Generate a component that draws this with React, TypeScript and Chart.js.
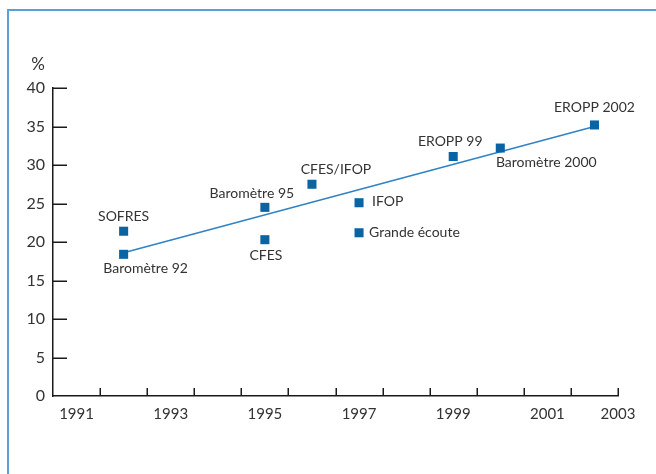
import React, { useEffect, useRef } from "react";
import { Chart, registerables } from "chart.js";

Chart.register(...registerables);

// ---- Data ----
const surveyNames = [
  "SOFRES",
  "Baromètre 92",
  "Baromètre 95",
  "CFES",
  "CFES/IFOP",
  "IFOP",
  "Grande écoute",
  "EROPP 99",
  "Baromètre 2000",
  "EROPP 2002",
];
const surveyYears = [1992, 1992, 1995, 1995, 1996, 1997, 1997, 1999, 2000, 2002];
const surveyValues = [21.4, 18.4, 24.5, 20.3, 27.5, 25.1, 21.2, 31.1, 32.2, 35.2];
const trendYears = [1992, 2002];
const trendValues = [18.6, 35.0];
const xTickLabels = ["1991", "1993", "1995", "1997", "1999", "2001", "2003"];
const yTickValues = [0, 5, 10, 15, 20, 25, 30, 35, 40];
const yUnit = "%";

// ---- Label placement (style, not data) ----
const labelPlacement: Record<string, [number, number, CanvasTextAlign]> = {
  "SOFRES": [0, -15, "center"],
  "Baromètre 92": [22, 14, "center"],
  "Baromètre 95": [-13, -14, "center"],
  "CFES": [1, 16, "center"],
  "CFES/IFOP": [24, -15, "center"],
  "IFOP": [13, -1, "left"],
  "Grande écoute": [10, 0, "left"],
  "EROPP 99": [-3, -15, "center"],
  "Baromètre 2000": [46, 14, "center"],
  "EROPP 2002": [0, -17, "center"],
};

const FONT = "Lato, 'Noto Sans', sans-serif";
const TEXT = "#333333";
const AXIS = "#1a1a1a";
const MARK = "#0a64a4";
const LINE = "#2f83c4";

const X_MIN = 1990.5;
const X_MAX = 2002.5;

const overlayPlugin = {
  id: "overlay",
  afterDatasetsDraw(chart: any) {
    const ctx = chart.ctx;
    const xs = chart.scales.x;
    const ys = chart.scales.y;
    ctx.save();
    // inward tick marks
    ctx.strokeStyle = AXIS;
    ctx.lineWidth = 1.5;
    ctx.beginPath();
    for (let v = X_MIN + 1; v <= X_MAX + 0.001; v += 1) {
      const px = Math.round(xs.getPixelForValue(v)) + 0.25;
      ctx.moveTo(px, ys.bottom);
      ctx.lineTo(px, ys.bottom - 8);
    }
    for (const v of yTickValues) {
      if (v === 0) continue;
      const py = Math.round(ys.getPixelForValue(v)) + 0.25;
      ctx.moveTo(xs.left, py);
      ctx.lineTo(xs.left + 14, py);
    }
    ctx.stroke();

    // unit label
    ctx.fillStyle = TEXT;
    ctx.font = `17px ${FONT}`;
    ctx.textAlign = "right";
    ctx.textBaseline = "middle";
    ctx.fillText(yUnit, 45, ys.getPixelForValue(40) - 23);

    // point labels
    ctx.font = `14px ${FONT}`;
    const meta = chart.getDatasetMeta(1);
    meta.data.forEach((el: any, i: number) => {
      const name = surveyNames[i];
      const [dx, dy, align] = labelPlacement[name];
      ctx.textAlign = align;
      ctx.fillText(name, el.x + dx, el.y + dy);
    });
    ctx.restore();
  },
};

export default function App() {
  const ref = useRef<HTMLCanvasElement>(null);

  useEffect(() => {
    if (!ref.current) return;
    const chart = new Chart(ref.current, {
      type: "scatter",
      data: {
        datasets: [
          {
            type: "line",
            data: trendYears.map((x, i) => ({ x, y: trendValues[i] })),
            borderColor: LINE,
            borderWidth: 1.5,
            pointRadius: 0,
            fill: false,
            order: 2,
          } as any,
          {
            data: surveyYears.map((x, i) => ({ x, y: surveyValues[i] })),
            pointStyle: "rect",
            pointRadius: 6.4,
            pointHoverRadius: 6.4,
            backgroundColor: MARK,
            borderWidth: 0,
            order: 1,
          },
        ],
      },
      options: {
        animation: false,
        responsive: false,
        devicePixelRatio: 1,
        layout: { padding: { top: 88, right: 38, left: 0, bottom: 0 } },
        plugins: { legend: { display: false }, tooltip: { enabled: false } },
        scales: {
          x: {
            type: "linear",
            min: X_MIN,
            max: X_MAX,
            afterFit: (s: any) => {
              s.height = 78;
            },
            afterBuildTicks: (s: any) => {
              const t = [];
              for (let v = X_MIN; v <= X_MAX + 0.001; v += 0.5) t.push({ value: v });
              s.ticks = t;
            },
            ticks: {
              autoSkip: false,
              maxRotation: 0,
              padding: 9,
              color: TEXT,
              font: { family: FONT, size: 15 },
              callback: (val: any) => {
                const v = Number(val);
                if (v === X_MAX) return xTickLabels[xTickLabels.length - 1];
                if (Number.isInteger(v) && (v - 1991) % 2 === 0) {
                  return xTickLabels[(v - 1991) / 2];
                }
                return "";
              },
            },
            grid: { display: true, drawOnChartArea: false, drawTicks: false },
            border: { display: true, color: AXIS, width: 1.5 },
          },
          y: {
            type: "linear",
            min: 0,
            max: 40,
            afterFit: (s: any) => {
              s.width = 53;
            },
            afterBuildTicks: (s: any) => {
              s.ticks = yTickValues.map((v) => ({ value: v }));
            },
            ticks: {
              padding: 8,
              color: TEXT,
              font: { family: FONT, size: 16 },
            },
            grid: { display: true, drawOnChartArea: false, drawTicks: false },
            border: { display: true, color: AXIS, width: 1.5 },
          },
        },
      },
      plugins: [overlayPlugin],
    });
    return () => chart.destroy();
  }, []);

  return (
    <div style={{ position: "absolute", left: 0, top: 0, width: 656, height: 474, background: "#fff" }}>
      <div
        style={{
          position: "absolute",
          left: 7,
          top: 9,
          right: 0,
          bottom: 0,
          borderTop: "2px solid #5b9fd4",
          borderLeft: "2px solid #5b9fd4",
        }}
      />
      <canvas ref={ref} width={656} height={474} style={{ position: "absolute", left: 0, top: 0 }} />
    </div>
  );
}
